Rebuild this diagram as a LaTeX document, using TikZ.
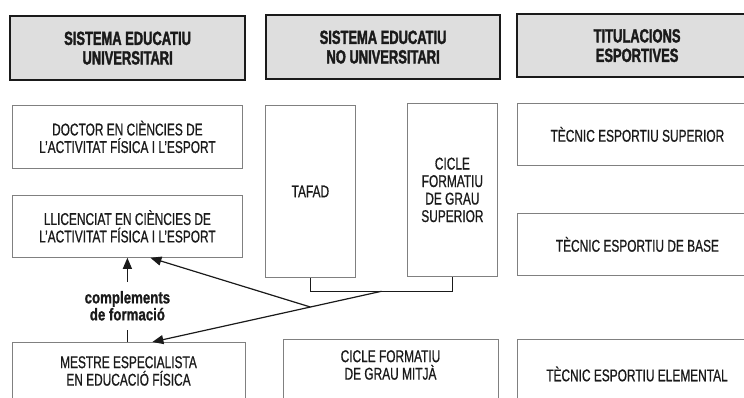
\documentclass[tikz,border=0pt]{standalone}
\usepackage{fontspec}
\setmainfont{Liberation Sans}
\newfontfamily\bodyfont{Liberation Sans}[FakeStretch=0.70, FakeBold=0.7]
\newfontfamily\hdrfont{Liberation Sans Bold}[FakeStretch=0.68, FakeBold=1.8]
\newfontfamily\lblfont{Liberation Sans Bold}[FakeStretch=0.78, FakeBold=1.0]
\usetikzlibrary{arrows.meta,calc}
\definecolor{ink}{HTML}{1A1A1A}
\definecolor{hdrfill}{HTML}{DEDEDE}
\begin{document}
\begin{tikzpicture}[x=1pt,y=-1pt,
  box/.style={draw=black!50, line width=0.8pt, fill=white, inner sep=0pt, align=center,
    anchor=north west, text=ink, font=\bodyfont\fontsize{17}{17.5}\selectfont},
  txt/.style={inner sep=0pt, align=center, text=ink, font=\bodyfont\fontsize{17}{17.5}\selectfont},
  hdr/.style={draw=ink, line width=2.2pt, fill=hdrfill, inner sep=0pt, align=center,
    anchor=north west, text=ink, font=\hdrfont\fontsize{19}{19.5}\selectfont},
  conn/.style={draw=ink, line width=1.2pt},
  arr/.style={conn, -{Triangle[length=11pt,width=9pt]}},
  lbl/.style={fill=white, inner xsep=2pt, inner ysep=9pt, align=center, text=ink,
    font=\lblfont\fontsize{17}{17}\selectfont}
]
\useasboundingbox (0,0) rectangle (744,398);
\clip (0,0) rectangle (744,398);

% headers
\node[hdr, minimum width=235pt, minimum height=64pt] (h1) at (9,15) {SISTEMA EDUCATIU\\UNIVERSITARI};
\node[hdr, minimum width=234pt, minimum height=64pt] (h2) at (265,14) {SISTEMA EDUCATIU\\NO UNIVERSITARI};
\node[hdr, minimum width=240pt, minimum height=63pt] (h3) at (516,13) {TITULACIONS\\ESPORTIVES};

% left column
\node[box, minimum width=230pt, minimum height=63pt] (doc) at (12,105) {DOCTOR EN CIÈNCIES DE\\L’ACTIVITAT FÍSICA I L’ESPORT};
\node[box, minimum width=230pt, minimum height=62pt] (llic) at (12,195) {LLICENCIAT EN CIÈNCIES DE\\L’ACTIVITAT FÍSICA I L’ESPORT};
\node[box, minimum width=233pt, minimum height=70pt] (mestre) at (12,342) {};
\node[txt] (mestret) at (128.5,371) {MESTRE ESPECIALISTA\\EN EDUCACIÓ FÍSICA};

% middle column
\node[box, minimum width=90pt, minimum height=172pt] (tafad) at (265,105) {TAFAD};
\node[box, minimum width=90pt, minimum height=173pt] (cfgs) at (407,103) {CICLE\\FORMATIU\\DE GRAU\\SUPERIOR};
\node[box, minimum width=215pt, minimum height=70pt] (cfgm) at (283,339) {};
\node[txt] (cfgmt) at (390.5,365) {CICLE FORMATIU\\DE GRAU MITJÀ};

% right column
\node[box, minimum width=240pt, minimum height=62pt] (tes) at (517,103) {TÈCNIC ESPORTIU SUPERIOR};
\node[box, minimum width=240pt, minimum height=62pt] (teb) at (517,213) {TÈCNIC ESPORTIU DE BASE};
\node[box, minimum width=240pt, minimum height=70pt] (tee) at (517,339) {};
\node[txt] (teet) at (637,374) {TÈCNIC ESPORTIU ELEMENTAL};

% connectors
\coordinate (bm) at ($(tafad.south)!0.5!(cfgs.south)+(0,14)$);
\draw[conn] (tafad.south) -- (tafad.south |- bm) -- (cfgs.south |- bm) -- (cfgs.south);
\draw[arr] (bm) -- ([xshift=23.5pt]mestre.north);
\coordinate (jn) at ($(bm)!0.31!([xshift=23.5pt]mestre.north)$);
\draw[arr] (jn) -- ([xshift=23pt]llic.south);
\draw[arr] (llic.south |- mestre.north) -- node[lbl, pos=0.43] (compl) {complements\\de formació} (llic.south);
\end{tikzpicture}
\end{document}
